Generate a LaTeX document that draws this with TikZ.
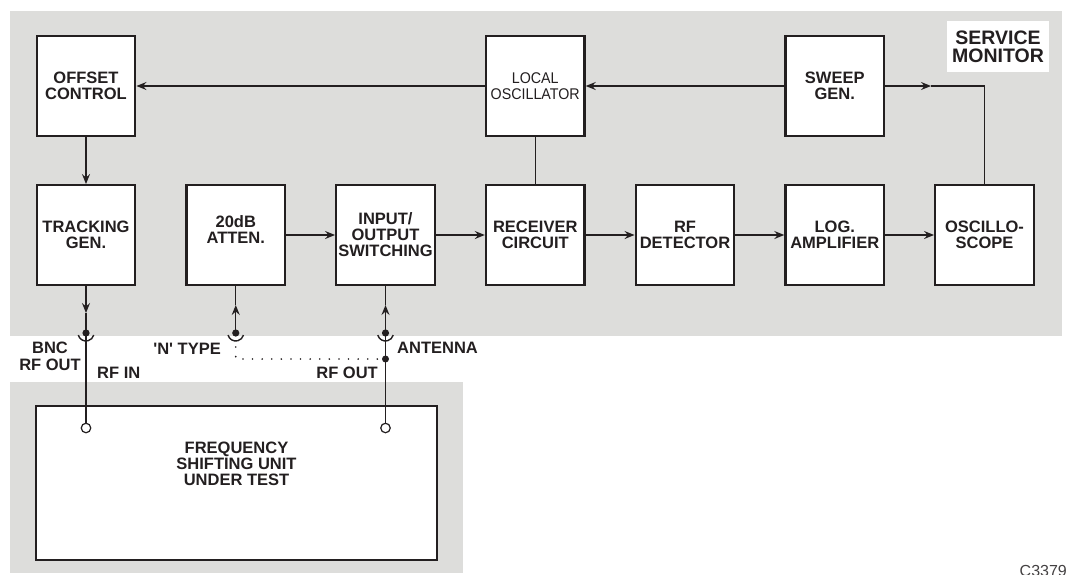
\documentclass[tikz,border=0pt]{standalone}
\usepackage{fontspec}
\setmainfont{Liberation Sans}
\newfontfamily\narrowfont[FakeStretch=0.92]{Liberation Sans}
\usetikzlibrary{arrows.meta}
\definecolor{panel}{RGB}{221,221,219}
\definecolor{ink}{RGB}{35,31,32}
\begin{document}
\begin{tikzpicture}[x=1pt,y=-1pt,
  blk/.style={draw=ink, line width=2.4pt, fill=white, minimum width=98.5pt, minimum height=99.5pt,
              align=center, font=\bfseries\fontsize{16.5}{16}\selectfont, text=ink, inner sep=0pt},
  wire/.style={draw=ink, line width=1.4pt},
  arr/.style={wire, -{Stealth[length=10pt,width=8pt,inset=3.5pt]}},
  lbl/.style={font=\bfseries\fontsize{16.5}{16}\selectfont, text=ink, align=center, inner sep=0pt},
  hole/.style={draw=ink, line width=1.2pt, fill=white, circle, minimum size=9.5pt, inner sep=0pt},
  jdot/.style={fill=ink, circle, minimum size=7pt, inner sep=0pt},
  socket/.style={draw=ink, line width=1.4pt}
]
\useasboundingbox (0,0) rectangle (1069,574);
% panels
\fill[panel] (10,11) rectangle (1062,336);
\fill[panel] (10,382) rectangle (463,573);
\node[fill=white, minimum width=102pt, minimum height=51pt, inner sep=0pt, align=center,
      font=\bfseries\fontsize{19.5}{18}\selectfont, text=ink] (sm) at (998,46.5) {SERVICE\\MONITOR};
% top row
\node[blk] (off) at (86,86) {OFFSET\\CONTROL};
\node[blk, font=\narrowfont\fontsize{15.5}{16}\selectfont] (lo) at (535.25,86) {LOCAL\\OSCILLATOR};
\node[blk] (swp) at (834.75,86) {SWEEP\\GEN.};
% bottom row
\node[blk] (trk) at (86,235) {TRACKING\\GEN.};
\node[blk] (att) at (235.75,235) {};
\node[lbl] (atttxt) at (235.75,230) {20dB\\ATTEN.};
\node[blk] (io) at (385.5,235) {INPUT/\\OUTPUT\\SWITCHING};
\node[blk] (rx) at (535.25,235) {RECEIVER\\CIRCUIT};
\node[blk] (det) at (685,235) {RF\\DETECTOR};
\node[blk] (log) at (834.75,235) {LOG.\\AMPLIFIER};
\node[blk] (osc) at (984.5,235) {OSCILLO-\\SCOPE};
% top connections
\draw[arr] (lo.west) -- (off.east);
\draw[arr] (swp.west) -- (lo.east);
\coordinate (swpA) at (931,86);
\coordinate (oscC) at (osc.north |- swp.east);
\draw[arr] (swp.east) -- (swpA);
\draw[wire] (swpA) -- (oscC) -- (osc.north);
\draw[wire] (lo.south) -- (rx.north);
\draw[arr] (off.south) -- (trk.north);
% bottom row connections
\draw[arr] (att.east) -- (io.west);
\draw[arr] (io.east) -- (rx.west);
\draw[arr] (rx.east) -- (det.west);
\draw[arr] (det.east) -- (log.west);
\draw[arr] (log.east) -- (osc.west);
% sockets
\coordinate (bnc) at (86,333);
\coordinate (nt) at (235.75,333);
\coordinate (ant) at (385.5,333);
\foreach \s in {bnc,nt,ant}{
  \fill[ink] (\s) circle (3.6);
  \draw[socket] ([shift={(165:8)}]\s) arc (165:15:8);
}
% DUT
\node[draw=ink, line width=2.6pt, fill=white, minimum width=401pt, minimum height=154pt, inner sep=0pt] (dut) at (236.5,483) {};
\node[lbl] (duttxt) at (236.5,464) {FREQUENCY\\SHIFTING UNIT\\UNDER TEST};
\node[hole] (rfin) at (86,428) {};
\node[hole] (rfout) at (385.5,428) {};
\node[jdot] (jn) at (385.5,359) {};
% tracking generator output
\coordinate (trkA) at (86,313);
\draw[arr] (trk.south) -- (trkA);
\draw[wire] (trkA) -- (bnc) -- (rfin.north);
% N type input
\coordinate (ntA) at (235.75,305);
\draw[arr] (nt) -- (ntA);
\draw[wire] (ntA) -- (att.south);
% antenna input
\coordinate (antA) at (385.5,305);
\draw[arr] (ant) -- (antA);
\draw[wire] (antA) -- (io.south);
\draw[wire] (ant) -- (jn.center) -- (rfout.north);
% dotted link
\coordinate (ntB) at (235.75,347);
\coordinate (ntC) at (235.75,359);
\draw[ink, line width=1.8pt, line cap=round, dash pattern=on 0pt off 9.6pt] (ntB) -- (ntC) -- (jn.center);
% labels
\node[lbl, anchor=north] (bnclbl) at (50,341.5) {BNC\\[1pt]RF OUT};
\node[lbl, anchor=base west] (rfinlbl) at (97,378) {RF IN};
\node[lbl, anchor=base east] (ntlbl) at (221,354) {\textquotesingle N\textquotesingle{} TYPE};
\node[lbl, anchor=base west] (antlbl) at (397,353) {ANTENNA};
\node[lbl, anchor=base east] (rfoutlbl) at (378,378) {RF OUT};
\node[font=\fontsize{16}{16}\selectfont, text=ink!85, anchor=north west, inner sep=0pt] (code) at (1019.5,565) {C3379};
\end{tikzpicture}
\end{document}
